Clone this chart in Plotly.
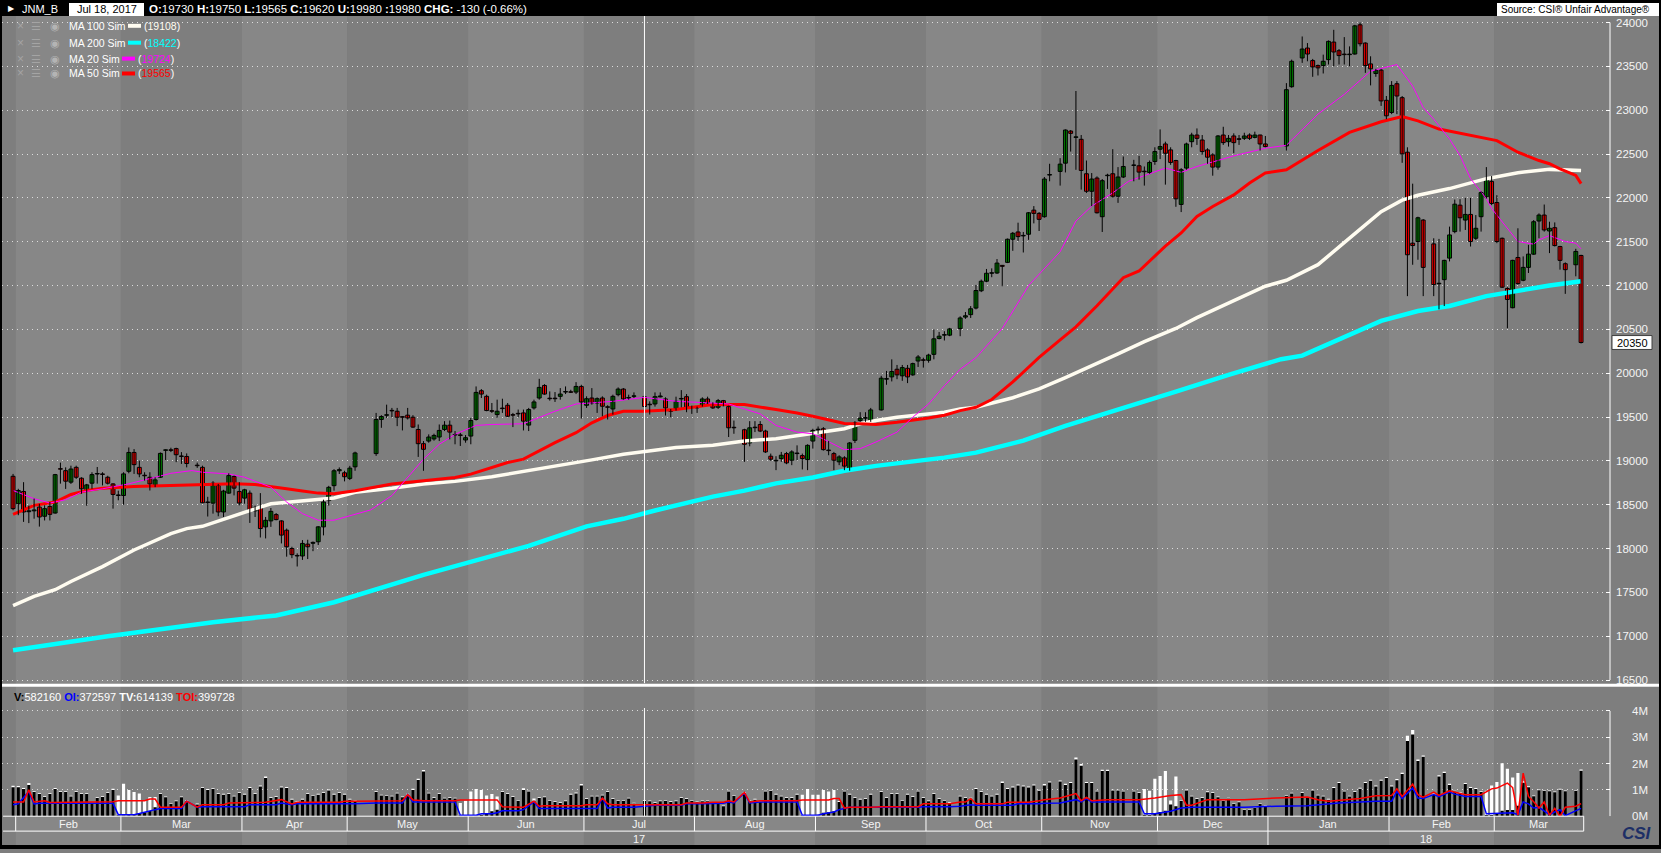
import numpy as np
import pandas as pd
import plotly.graph_objects as go

W, H = 1661, 853

# ---- calendar (weekday axis, exchange holidays left as gaps) ----
first_day = "2017-01-31"
last_day = "2018-03-23"
holidays = ["2017-03-20", "2017-05-03", "2017-05-04", "2017-05-05", "2017-07-17",
            "2017-08-11", "2017-09-18", "2017-10-09", "2017-11-03", "2017-11-23",
            "2018-01-01", "2018-01-02", "2018-01-03", "2018-01-08", "2018-02-12",
            "2018-03-21"]
month_names = ["Feb", "Mar", "Apr", "May", "Jun", "Jul", "Aug", "Sep", "Oct", "Nov",
               "Dec", "Jan", "Feb", "Mar"]
price_ticks = list(range(16500, 24001, 500))
vol_ticks = [0, 1, 2, 3, 4]
vol_tick_text = ["0M", "1M", "2M", "3M", "4M"]

# ---- daily OHLC, JNM_B ----
open_ = [
    18824, 18511, 18651, 18420, 18430, 18473, 18368, 18480, 18405, 18910,
    18888, 18757, 18926, 18802, 18662, 18745, 18850, 18850, 18813, 18737,
    18610, 18605, 18881, 19096, 18926, 18835, 18813, 18719, 18813, 19120,
    19125, 19140, 19055, 19050,
    18945, 18926, 18530, 18518, 18719, 18417, 18632, 18821, 18651, 18575,
    18632, 18430, 18466, 18247, 18315, 18387, 18315, 18209, 18000, 17915,
    17915, 18050, 18060, 18077, 18247, 18547, 18717, 18887, 18864, 18800, 18932,
    19083, 19472, 19520, 19575, 19566, 19500, 19521, 19498, 19358, 19196,
    19226, 19250, 19272, 19358, 19407, 19300, 19295, 19238, 19283, 19472,
    19800, 19736, 19570, 19528, 19600, 19634, 19525, 19540, 19547, 19408,
    19604, 19717, 19860, 19712, 19712, 19736, 19785, 19785, 19785, 19849,
    19634, 19717, 19660, 19717, 19615, 19592, 19755, 19819, 19717, 19736,
    19730, 19645, 19649, 19730, 19706, 19570, 19592, 19706, 19732, 19611,
    19610, 19630, 19706, 19649, 19611, 19687, 19619, 19380,
    19355, 19204, 19380, 19415, 19340, 19053, 19000, 19026, 19083, 19007,
    19083, 19060, 19015, 19226, 19355, 19366, 19121, 19083, 18989, 19034,
    18902, 19234, 19460, 19487, 19460,
    19581, 19932, 19958, 20045, 19970, 20056, 19981, 20139, 20150, 20147,
    20215, 20396, 20434, 20434,
    20509, 20640, 20668, 20743, 20940, 21049, 21140, 21143, 21230, 21264,
    21528, 21611, 21566, 21585, 21860, 21823, 21785, 22260,
    22302, 22396, 22762, 22690, 22668, 22275, 22075, 22226, 21785, 22253,
    22275, 22019, 22238,
    22370, 22366, 22302, 22290, 22415, 22555, 22615, 22547, 22426, 21925,
    22340, 22641, 22717, 22660, 22547, 22490, 22351, 22717, 22641, 22706,
    22670, 22679, 22717, 22690, 22717, 22615,
    22592, 23268,
    23596, 23709, 23566, 23509, 23509, 23577, 23777, 23679, 23636, 23634,
    23641, 23974, 23766, 23528, 23419, 23457, 23113, 22974, 23302, 23143,
    22521, 21483, 21502, 21747,
    21475, 21020, 21067, 21313, 21615, 21917, 21747, 21811, 21539, 21785,
    22011, 22188, 21947, 21539, 20966, 20747, 21320, 21060, 21207, 21358,
    21736, 21804, 21622, 21660, 21445, 21249,
    21237, 21343]
high = [
    18851, 18681, 18757, 18490, 18570, 18510, 18493, 18530, 18851, 18980,
    18926, 18945, 18945, 18813, 18737, 18870, 18930, 18870, 18830, 18745,
    18660, 18870, 19153, 19134, 19002, 18870, 18870, 18813, 19096, 19130,
    19150, 19150, 19100, 19085,
    18980, 18945, 18590, 18768, 18737, 18670, 18858, 18832, 18757, 18681,
    18662, 18490, 18632, 18360, 18462, 18405, 18322, 18228, 18020, 17945,
    18096, 18100, 18080, 18255, 18557, 18715, 18906, 18925, 18887, 18943, 19105,
    19547, 19521, 19641, 19604, 19604, 19510, 19604, 19521, 19415, 19226,
    19302, 19310, 19415, 19453, 19460, 19340, 19320, 19294, 19490, 19849,
    19819, 19755, 19660, 19698, 19709, 19660, 19547, 19585, 19585, 19604,
    19698, 19936, 19875, 19792, 19785, 19830, 19849, 19811, 19898, 19868,
    19736, 19830, 19724, 19736, 19634, 19755, 19838, 19830, 19755, 19781,
    19750, 19679, 19781, 19781, 19725, 19592, 19732, 19807, 19762, 19630,
    19619, 19725, 19732, 19668, 19706, 19695, 19630, 19460,
    19366, 19453, 19453, 19453, 19355, 19083, 19053, 19102, 19102, 19121,
    19177, 19083, 19189, 19366, 19392, 19385, 19226, 19102, 19064, 19053,
    19215, 19453, 19555, 19555, 19604,
    19970, 20026, 20158, 20094, 20094, 20094, 20120, 20207, 20177, 20222,
    20498, 20471, 20479, 20517,
    20649, 20698, 20766, 21007, 21068, 21189, 21196, 21302, 21234, 21536,
    21611, 21717, 21611, 21838, 21906, 21838, 22238, 22389,
    22453, 22781, 22774, 23219, 22717, 22426, 22283, 22245, 22215, 22275,
    22555, 22351, 22472,
    22434, 22479, 22358, 22426, 22577, 22781, 22641, 22577, 22434, 22340,
    22630, 22743, 22792, 22717, 22566, 22509, 22717, 22811, 22717, 22736,
    22717, 22743, 22736, 22755, 22720, 22706,
    23309, 23577,
    23841, 23766, 23585, 23521, 23634, 23796, 23917, 23698, 23834, 23728,
    23974, 24000, 23774, 23615, 23472, 23472, 23162, 23332, 23332, 23162,
    22577, 22162, 21785, 21758,
    21539, 21532, 21294, 21672, 21981, 21985, 22000, 22000, 21804, 22075,
    22351, 22249, 22030, 21547, 20981, 21294, 21653, 21332, 21464, 21747,
    21823, 21924, 21728, 21720, 21453, 21264,
    21419, 21351]
low = [
    18436, 18380, 18304, 18290, 18340, 18250, 18320, 18320, 18398, 18740,
    18680, 18737, 18794, 18624, 18488, 18681, 18740, 18720, 18730, 18455,
    18550, 18500, 18858, 18851, 18813, 18775, 18662, 18700, 18805, 19010,
    19100, 18985, 18965, 18926,
    18920, 18518, 18365, 18398, 18368, 18360, 18625, 18606, 18492, 18511,
    18292, 18360, 18126, 18115, 18247, 18322, 18058, 17907, 17890, 17795,
    17870, 17880, 17970, 18040, 18150, 18490, 18660, 18850, 18766, 18781, 18887,
    19057, 19377, 19490, 19498, 19396, 19347, 19472, 19377, 19045, 18887,
    19207, 19230, 19226, 19340, 19245, 19189, 19170, 19207, 19189, 19460,
    19717, 19566, 19547, 19490, 19547, 19498, 19385, 19498, 19347, 19340,
    19585, 19698, 19755, 19687, 19672, 19698, 19762, 19774, 19762, 19483,
    19604, 19641, 19547, 19509, 19472, 19528, 19736, 19698, 19698, 19717,
    19565, 19528, 19619, 19725, 19517, 19498, 19573, 19611, 19555, 19536,
    19547, 19619, 19649, 19592, 19592, 19622, 19272, 19309,
    18989, 19166, 19328, 19328, 19090, 19000, 18894, 18989, 18962, 18951,
    19007, 18902, 18894, 19140, 19309, 19117, 19064, 18894, 18951, 18894,
    18887, 19204, 19445, 19445, 19445,
    19574, 19868, 19906, 19932, 19913, 19887, 19970, 20071, 20064, 20120,
    20158, 20385, 20373, 20422,
    20422, 20620, 20630, 20728, 20925, 21038, 21095, 21132, 20992, 21256,
    21396, 21509, 21377, 21521, 21709, 21622, 21774, 22189,
    22140, 22290, 22528, 22320, 22094, 22056, 21906, 21822, 21611, 22102,
    22000, 21943, 22226,
    22189, 22207, 22140, 22275, 22377, 22442, 22151, 22377, 21898, 21838,
    22321, 22577, 22604, 22490, 22389, 22253, 22321, 22604, 22585, 22509,
    22604, 22660, 22660, 22679, 22540, 22577,
    22540, 23257,
    23540, 23558, 23381, 23396, 23419, 23521, 23502, 23521, 23521, 23502,
    23634, 23728, 23426, 23283, 23381, 23049, 22898, 22955, 22955, 22400,
    20879, 21237, 21294, 20879,
    20879, 20728, 20766, 21275, 21596, 21615, 21634, 21445, 21520, 21615,
    21992, 21917, 21483, 20973, 20513, 20740, 21011, 21049, 21143, 21351,
    21539, 21615, 21370, 21445, 21181, 20905,
    21105, 20339]
close = [
    18455, 18662, 18417, 18430, 18440, 18360, 18455, 18390, 18843, 18905,
    18768, 18907, 18813, 18681, 18726, 18843, 18855, 18845, 18745, 18617,
    18605, 18851, 19096, 18957, 18851, 18830, 18737, 18783, 19085, 19125,
    19120, 19070, 19050, 18970,
    18945, 18522, 18525, 18745, 18417, 18655, 18832, 18689, 18519, 18670,
    18436, 18470, 18228, 18322, 18424, 18330, 18153, 18020, 17930, 17915,
    18058, 18020, 18070, 18247, 18530, 18698, 18887, 18900, 18819, 18917, 19090,
    19472, 19506, 19525, 19570, 19498, 19498, 19490, 19385, 19196, 19132,
    19272, 19290, 19347, 19407, 19328, 19295, 19290, 19264, 19460, 19781,
    19762, 19574, 19566, 19566, 19596, 19509, 19521, 19536, 19453, 19585,
    19672, 19838, 19762, 19709, 19709, 19762, 19788, 19782, 19849, 19672,
    19709, 19660, 19709, 19623, 19611, 19736, 19819, 19706, 19720, 19738,
    19620, 19640, 19732, 19740, 19604, 19566, 19679, 19708, 19611, 19613,
    19604, 19706, 19660, 19604, 19687, 19630, 19377, 19377,
    19189, 19377, 19378, 19340, 19102, 19019, 19002, 19064, 18977, 19102,
    19085, 19026, 19177, 19347, 19357, 19128, 19117, 19007, 19045, 18940,
    19204, 19434, 19487, 19490, 19581,
    19943, 19934, 20019, 19981, 20064, 19958, 20109, 20185, 20147, 20207,
    20392, 20422, 20436, 20505,
    20630, 20655, 20735, 20943, 21049, 21140, 21143, 21256, 21219, 21528,
    21596, 21558, 21568, 21830, 21823, 21755, 22215, 22264,
    22385, 22774, 22736, 22692, 22313, 22075, 22215, 21830, 22196, 22255,
    22019, 22238, 22358,
    22372, 22294, 22298, 22404, 22528, 22585, 22509, 22404, 21989, 22321,
    22615, 22717, 22679, 22528, 22464, 22351, 22706, 22630, 22679, 22630,
    22668, 22706, 22679, 22717, 22615, 22585,
    23234, 23558,
    23698, 23641, 23494, 23483, 23558, 23785, 23664, 23623, 23634, 23636,
    23962, 23758, 23509, 23472, 23453, 23106, 22936, 23283, 23162, 22502,
    21351, 21456, 21773, 21207,
    21011, 21022, 21287, 21577, 21928, 21773, 21811, 21502, 21653, 22060,
    22211, 21936, 21502, 20981, 20841, 21287, 21022, 21207, 21358, 21728,
    21804, 21634, 21653, 21456, 21287, 21181,
    21389, 20350]

# ---- volume (millions): V = front contract, TV = total ----
vol = [
    1.10, 1.10, 1.03, 1.19, 0.92, 0.84, 0.73, 0.84, 1.03, 0.92,
    0.92, 0.75, 0.92, 0.84, 0.84, 0.47, 0.69, 0.73, 0.88, 1.00,
    0.03, 0.04, 0.05, 0.08, 0.10, 0.15, 0.20, 0.34, 0.84, 0.72,
    0.47, 0.57, 0.72, 0.57,
    0.45, 1.07, 1.00, 1.03, 0.84, 0.82, 0.84, 0.75, 0.88, 0.82,
    1.07, 0.84, 1.13, 1.45, 0.69, 0.73, 1.09, 1.07, 0.63, 0.54,
    0.63, 0.84, 0.78, 0.82, 0.88, 0.98, 0.82, 0.88, 0.82, 0.63, 0.59,
    0.92, 0.79, 0.78, 0.75, 0.86, 0.72, 0.82, 1.00, 1.38, 1.70,
    0.86, 0.69, 0.84, 0.67, 0.69, 0.67, 0.03, 0.03, 0.04, 0.05,
    0.06, 0.10, 0.19, 0.25, 0.92, 0.84, 0.73, 0.59, 1.00, 0.94,
    0.59, 0.69, 0.72, 0.59, 0.54, 0.50, 0.57, 0.82, 0.86, 1.17,
    0.65, 0.75, 0.75, 0.79, 0.92, 0.65, 0.59, 0.59, 0.67, 0.48,
    0.58, 0.57, 0.50, 0.57, 0.59, 0.54, 0.57, 0.69, 0.65, 0.59,
    0.53, 0.57, 0.57, 0.48, 0.48, 0.38, 0.94, 0.78,
    0.88, 0.57, 0.63, 0.54, 0.94, 0.97, 0.82, 0.75, 0.69, 0.69,
    0.82, 0.02, 0.03, 0.04, 0.06, 0.13, 0.15, 0.19, 0.54, 0.94,
    0.82, 0.69, 0.63, 0.65, 0.82,
    0.92, 0.69, 0.84, 0.84, 0.59, 0.82, 0.73, 0.94, 0.69, 0.57,
    0.84, 0.65, 0.59, 0.50,
    0.75, 0.69, 0.67, 1.03, 0.92, 0.82, 0.75, 0.82, 1.26, 1.03,
    1.09, 1.17, 1.13, 1.09, 1.17, 0.97, 1.17, 1.28,
    1.32, 1.19, 1.26, 2.16, 1.92, 1.26, 1.26, 0.94, 1.72, 1.72,
    0.98, 0.98, 0.94,
    0.94, 0.88, 0.06, 0.05, 0.08, 0.16, 0.21, 0.45, 0.38, 0.59,
    0.98, 0.75, 0.65, 0.69, 0.91, 0.88, 0.72, 0.59, 0.67, 0.47,
    0.53, 0.25, 0.25, 0.31, 0.47, 0.38,
    0.78, 0.86,
    0.88, 0.69, 0.98, 0.79, 0.75, 0.63, 1.07, 1.26, 0.94, 0.75,
    0.92, 1.04, 1.26, 1.35, 1.13, 1.35, 1.45, 1.13, 1.37, 1.60,
    2.86, 3.11, 2.10, 2.26,
    0.82, 1.51, 1.64, 1.19, 0.94, 0.88, 1.22, 1.07, 1.03, 0.92,
    0.05, 0.05, 0.08, 0.21, 0.24, 0.24, 0.40, 1.27, 1.10, 0.76,
    0.99, 0.97, 0.95, 0.91, 1.01, 0.95,
    0.97, 1.73]
total_vol = [
    1.16, 1.15, 1.07, 1.26, 0.95, 0.87, 0.76, 0.87, 1.07, 0.95,
    0.95, 0.78, 0.95, 0.87, 0.87, 0.50, 0.72, 0.76, 0.91, 1.04,
    0.79, 1.23, 1.00, 0.92, 0.86, 0.60, 0.73, 0.73, 0.87, 0.75,
    0.50, 0.60, 0.75, 0.60,
    0.48, 1.10, 1.03, 1.06, 0.87, 0.85, 0.87, 0.78, 0.91, 0.85,
    1.11, 0.87, 1.17, 1.51, 0.72, 0.76, 1.13, 1.11, 0.66, 0.57,
    0.66, 0.87, 0.81, 0.85, 0.91, 1.02, 0.85, 0.91, 0.85, 0.66, 0.62,
    0.95, 0.82, 0.81, 0.78, 0.89, 0.75, 0.85, 1.04, 1.42, 1.76,
    0.89, 0.72, 0.87, 0.70, 0.72, 0.70, 0.50, 0.59, 0.94, 1.03,
    1.00, 0.79, 0.84, 0.75, 0.95, 0.87, 0.76, 0.62, 1.06, 0.97,
    0.67, 0.72, 0.75, 0.62, 0.57, 0.53, 0.60, 0.85, 0.90, 1.22,
    0.68, 0.78, 0.78, 0.82, 0.95, 0.68, 0.62, 0.62, 0.70, 0.51,
    0.61, 0.60, 0.53, 0.60, 0.62, 0.57, 0.60, 0.72, 0.68, 0.62,
    0.56, 0.60, 0.60, 0.51, 0.51, 0.41, 0.97, 0.81,
    0.91, 0.60, 0.66, 0.57, 0.97, 1.00, 0.85, 0.78, 0.72, 0.72,
    0.85, 0.82, 1.03, 0.82, 0.82, 1.00, 0.94, 1.00, 0.58, 0.97,
    0.85, 0.72, 0.66, 0.68, 0.85,
    0.95, 0.72, 0.87, 0.87, 0.62, 0.85, 0.76, 0.97, 0.72, 0.60,
    0.87, 0.68, 0.62, 0.53,
    0.78, 0.72, 0.70, 1.07, 0.95, 0.85, 0.78, 0.85, 1.32, 1.07,
    1.13, 1.21, 1.17, 1.13, 1.21, 1.01, 1.22, 1.32,
    1.36, 1.23, 1.30, 2.23, 1.98, 1.30, 1.30, 0.97, 1.77, 1.77,
    1.01, 1.01, 0.97,
    0.97, 0.91, 1.03, 0.97, 1.42, 1.53, 1.72, 0.60, 1.51, 0.62,
    1.02, 0.78, 0.68, 0.72, 0.95, 0.91, 0.75, 0.62, 0.70, 0.50,
    0.56, 0.27, 0.27, 0.33, 0.50, 0.41,
    0.81, 0.89,
    0.91, 0.72, 1.01, 0.82, 0.78, 0.66, 1.11, 1.30, 0.97, 0.78,
    0.95, 1.08, 1.30, 1.39, 1.17, 1.39, 1.49, 1.17, 1.41, 1.65,
    3.06, 3.28, 2.16, 2.31,
    0.86, 1.56, 1.69, 1.23, 0.97, 0.91, 1.26, 1.11, 1.07, 0.95,
    0.97, 1.17, 1.30, 2.01, 1.80, 1.47, 1.64, 1.33, 1.14, 0.79,
    1.02, 1.00, 0.98, 0.94, 1.04, 0.98,
    1.00, 1.78]

# ---- open interest lines (millions), read at weekday numbers ----
oi_days = [0, 1, 3, 4, 5, 19, 20, 23, 24, 25, 26, 27, 28, 32, 33, 35, 36, 44, 45, 50,
           51, 53, 54, 65, 69, 74, 75, 76, 84, 85, 88, 89, 91, 92, 93, 96, 97, 99, 100, 111,
           112, 113, 114, 118, 120, 122, 127, 128, 131, 133, 135, 136, 137, 139, 140, 142,
           149, 150, 153, 154, 155, 156, 157, 158, 159, 172, 173, 178, 180, 182, 183, 190,
           191, 195, 196, 199, 202, 203, 204, 205, 214, 215, 217, 220, 222, 224, 234, 240,
           246, 252, 259, 262, 263, 264, 266, 267, 268, 270, 271, 273, 274, 276, 279, 280,
           284, 285, 286, 287, 288, 289, 290, 291, 292, 293, 294, 295, 297, 298]
oi_vals = [0.44, 0.47, 0.94, 0.47, 0.49, 0.49, 0.06, 0.06, 0.10, 0.16, 0.21, 0.25, 0.29,
           0.29, 0.57, 0.34, 0.36, 0.36, 0.44, 0.44, 0.50, 0.44, 0.47, 0.47, 0.50, 0.50,
           0.82, 0.54, 0.54, 0.04, 0.04, 0.09, 0.09, 0.13, 0.21, 0.21, 0.25, 0.54, 0.29,
           0.29, 0.69, 0.31, 0.34, 0.34, 0.377, 0.42, 0.42, 0.47, 0.47, 0.49, 0.49, 0.54,
           0.50, 0.88, 0.50, 0.54, 0.54, 0.04, 0.04, 0.09, 0.13, 0.16, 0.25, 0.29, 0.34,
           0.34, 0.36, 0.36, 0.38, 0.44, 0.42, 0.42, 0.47, 0.47, 0.49, 0.50, 0.63, 0.54,
           0.67, 0.54, 0.54, 0.09, 0.09, 0.19, 0.31, 0.34, 0.34, 0.38, 0.40, 0.50, 0.57,
           0.57, 0.94, 0.67, 1.07, 0.69, 0.67, 0.82, 0.74, 0.92, 0.84, 0.75, 0.75, 0.09,
           0.11, 0.13, 0.06, 0.54, 0.47, 0.31, 0.34, 0.19, 0.06, 0.16, 0.25, 0.02, 0.20,
           0.30]
toi_days = [0, 2, 3, 4, 6, 7, 19, 20, 25, 26, 27, 28, 32, 33, 35, 36, 40, 41, 48, 51,
            53, 54, 62, 63, 65, 69, 74, 75, 76, 78, 84, 85, 92, 93, 97, 99, 100, 101, 108,
            109, 111, 112, 113, 114, 118, 120, 122, 127, 128, 131, 133, 135, 136, 137, 139,
            140, 142, 149, 150, 155, 156, 157, 158, 159, 163, 165, 172, 173, 178, 180, 181,
            182, 183, 188, 189, 193, 195, 196, 199, 202, 203, 204, 205, 208, 214, 217, 220,
            222, 223, 224, 227, 234, 240, 246, 248, 250, 256, 259, 262, 263, 264, 266, 267,
            268, 270, 271, 273, 274, 276, 279, 281, 282, 284, 285, 286, 287, 288, 289, 290,
            291, 292, 293, 294, 295, 297, 298]
toi_vals = [0.54, 0.54, 1.00, 0.54, 0.59, 0.52, 0.55, 0.59, 0.59, 0.65, 0.65, 0.34, 0.34,
            0.57, 0.34, 0.44, 0.44, 0.50, 0.53, 0.63, 0.47, 0.53, 0.53, 0.57, 0.57, 0.59,
            0.59, 0.82, 0.62, 0.59, 0.59, 0.62, 0.62, 0.36, 0.34, 0.57, 0.38, 0.40, 0.40,
            0.44, 0.44, 0.69, 0.47, 0.44, 0.44, 0.415, 0.44, 0.44, 0.50, 0.50, 0.53, 0.53,
            0.59, 0.54, 0.90, 0.54, 0.59, 0.59, 0.62, 0.62, 0.67, 0.67, 0.31, 0.34, 0.34,
            0.36, 0.36, 0.47, 0.47, 0.54, 0.54, 0.67, 0.47, 0.47, 0.53, 0.53, 0.59, 0.63,
            0.69, 0.86, 0.59, 0.72, 0.59, 0.63, 0.63, 0.69, 0.79, 0.82, 0.42, 0.42, 0.63,
            0.63, 0.69, 0.73, 0.63, 0.57, 0.67, 0.78, 0.79, 1.04, 0.75, 1.22, 0.82, 0.72,
            0.92, 0.79, 0.97, 0.92, 0.82, 0.82, 1.04, 1.07, 1.26, 1.09, 0.04, 1.64, 0.75,
            0.55, 0.31, 0.54, 0.04, 0.30, 0.00, 0.34, 0.38, 0.48]

# ---- moving averages, read at weekday numbers ----
ma200_days = [0, 18, 38, 50, 55, 61, 78, 98, 109, 116, 122, 128, 133, 139, 145, 152, 158,
              164, 171, 177, 183, 192, 200, 210, 221, 231, 241, 245, 254, 260, 267, 273,
              280, 286, 292, 298]
ma200_vals = [16840, 17000, 17160, 17236, 17304, 17387, 17700, 18030, 18253, 18339, 18434,
              18524, 18592, 18660, 18743, 18811, 18887, 18943, 18992, 19037, 19094, 19230,
              19400, 19580, 19790, 19980, 20160, 20200, 20445, 20596, 20709, 20766, 20879,
              20943, 21000, 21049]
ma100_days = [0, 4, 8, 11, 17, 23, 30, 33, 36, 42, 46, 49, 55, 61, 65, 72, 78, 84, 91, 97,
              103, 110, 116, 120, 126, 133, 139, 145, 152, 158, 161, 164, 168, 171, 174,
              177, 180, 183, 190, 195, 200, 205, 210, 215, 221, 225, 231, 238, 242, 248,
              254, 260, 264, 267, 273, 280, 286, 292, 298]
ma100_vals = [17349, 17455, 17530, 17624, 17794, 17983, 18170, 18227, 18253, 18379, 18453,
              18510, 18547, 18577, 18642, 18687, 18736, 18766, 18819, 18879, 18932, 19011,
              19075, 19108, 19151, 19177, 19226, 19253, 19309, 19366, 19423, 19460, 19498,
              19517, 19536, 19555, 19592, 19611, 19720, 19820, 19950, 20080, 20220, 20360,
              20510, 20634, 20804, 20992, 21060, 21238, 21540, 21842, 21974, 22030, 22106,
              22219, 22287, 22325, 22313]
ma50_days = [0, 4, 8, 11, 14, 17, 23, 30, 36, 42, 46, 49, 52, 55, 58, 61, 65, 72, 78, 84,
             87, 91, 94, 97, 100, 103, 107, 110, 113, 116, 120, 126, 133, 139, 145, 149,
             152, 155, 158, 161, 164, 168, 171, 174, 177, 180, 183, 186, 190, 195, 199,
             202, 206, 211, 214, 219, 222, 225, 228, 232, 235, 238, 242, 248, 254, 260,
             264, 267, 271, 276, 282, 286, 290, 292, 294, 297, 298]
ma50_vals = [18390, 18492, 18530, 18617, 18662, 18689, 18708, 18719, 18730, 18738, 18730,
             18708, 18681, 18655, 18632, 18625, 18660, 18736, 18774, 18811, 18849, 18925,
             18981, 19019, 19113, 19208, 19321, 19434, 19517, 19566, 19565, 19585, 19642,
             19642, 19585, 19547, 19509, 19464, 19426, 19423, 19415, 19441, 19464, 19490,
             19521, 19573, 19611, 19700, 19900, 20180, 20380, 20528, 20770, 21090, 21166,
             21449, 21600, 21789, 21902, 22034, 22170, 22283, 22321, 22540, 22747, 22868,
             22928, 22879, 22785, 22728, 22653, 22521, 22426, 22389, 22332, 22257, 22162]
ma20_days = [0, 4, 7, 10, 13, 17, 22, 27, 30, 34, 36, 41, 44, 49, 52, 55, 58, 61, 64, 68,
             72, 75, 78, 81, 84, 88, 91, 97, 100, 103, 107, 110, 114, 120, 126, 130, 136,
             139, 142, 145, 149, 152, 155, 158, 161, 164, 168, 171, 174, 177, 180, 183,
             188, 193, 199, 202, 205, 209, 212, 219, 222, 225, 232, 238, 242, 248, 253,
             258, 263, 266, 268, 270, 273, 275, 277, 280, 281, 283, 286, 289, 290, 292,
             295, 297, 298]
ma20_vals = [18662, 18568, 18519, 18557, 18643, 18681, 18738, 18813, 18858, 18889, 18870,
             18851, 18813, 18700, 18530, 18398, 18323, 18323, 18377, 18441, 18604, 18811,
             19019, 19189, 19302, 19404, 19415, 19423, 19498, 19566, 19649, 19660, 19679,
             19724, 19679, 19668, 19649, 19592, 19536, 19404, 19328, 19309, 19215, 19128,
             19139, 19215, 19328, 19498, 19649, 19857, 20045, 20177, 20509, 21000, 21385,
             21736, 21906, 22057, 22189, 22340, 22291, 22358, 22479, 22566, 22600, 22955,
             23181, 23445, 23521, 23275, 23030, 22898, 22672, 22483, 22219, 21992, 21879,
             21728, 21502, 21472, 21521, 21570, 21502, 21483, 21419]

cursor_date = "2017-07-18"
ma_legend = [("MA 100 Sim", "#fffcf0", "19108"), ("MA 200 Sim", "#00ffff", "18422"),
             ("MA 20 Sim", "#ff00ff", "19724"), ("MA 50 Sim", "#ff0000", "19565")]

# ---- derived positions on the weekday axis ----
wd_all = pd.bdate_range(first_day, last_day)
trade_days = wd_all[~wd_all.isin(pd.to_datetime(holidays))]
assert len(trade_days) == len(close) == len(vol) == len(total_vol)
d0 = np.datetime64(first_day)
day_no = np.busday_count(d0, trade_days.values.astype("datetime64[D]"))
cursor_x = int(np.busday_count(d0, np.datetime64(cursor_date)))
month_starts = pd.date_range("2017-02-01", "2018-03-01", freq="MS")
bounds = [np.busday_count(d0, np.busday_offset(np.datetime64(m.date()), 0, roll="forward")) - 0.5
          for m in month_starts]
end_x = day_no[-1] + 0.5
X0, X1 = -2.1, 303.5


def fx(p):
    return p / W


def fy(p):
    return 1 - p / H


DARK, LIGHT = "#7e7e7e", "#878787"

o_arr, c_arr = np.array(open_), np.array(close)
body_base = np.minimum(o_arr, c_arr)
body_size = np.maximum(np.abs(c_arr - o_arr), 6)
body_col = np.where(c_arr > o_arr, "#008000", "#ff0000")
wick_x, wick_y = [], []
for d, lo, hi in zip(day_no, low, high):
    wick_x += [d, d, None]
    wick_y += [lo, hi, None]

fig = go.Figure()
fig.add_trace(go.Scatter(x=ma200_days, y=ma200_vals, mode="lines",
                         line=dict(color="#00ffff", width=4.5), hoverinfo="skip"))
fig.add_trace(go.Scatter(x=ma100_days, y=ma100_vals, mode="lines",
                         line=dict(color="#fffcf0", width=3.5), hoverinfo="skip"))
fig.add_trace(go.Scatter(x=ma50_days, y=ma50_vals, mode="lines",
                         line=dict(color="#ff0000", width=3), hoverinfo="skip"))
fig.add_trace(go.Scatter(x=ma20_days, y=ma20_vals, mode="lines",
                         line=dict(color="#ff00ff", width=1), hoverinfo="skip"))
fig.add_trace(go.Scatter(x=wick_x, y=wick_y, mode="lines",
                         line=dict(color="black", width=1), hoverinfo="skip"))
fig.add_trace(go.Bar(x=day_no, y=body_size, base=body_base, width=0.74,
                     marker=dict(color=body_col, line=dict(color="black", width=1)),
                     hoverinfo="skip"))
fig.add_trace(go.Bar(x=day_no, y=total_vol, yaxis="y2", width=0.6,
                     marker=dict(color="white", line=dict(width=0)), hoverinfo="skip"))
fig.add_trace(go.Bar(x=day_no, y=vol, yaxis="y2", width=0.6,
                     marker=dict(color="black", line=dict(width=0)), hoverinfo="skip"))
fig.add_trace(go.Scatter(x=oi_days, y=oi_vals, yaxis="y2", mode="lines",
                         line=dict(color="#0000ff", width=1.5), hoverinfo="skip"))
fig.add_trace(go.Scatter(x=toi_days, y=toi_vals, yaxis="y2", mode="lines",
                         line=dict(color="#ff0000", width=1.5), hoverinfo="skip"))

shapes = []
# month bands
edges = [X0] + bounds + [X1]
for i in range(len(edges) - 1):
    shapes.append(dict(type="rect", xref="x", yref="paper", x0=edges[i], x1=edges[i + 1],
                       y0=0, y1=fy(16), fillcolor=DARK if i % 2 == 0 else LIGHT,
                       line=dict(width=0), layer="below"))
# cursor
shapes.append(dict(type="line", xref="x", yref="paper", x0=cursor_x, x1=cursor_x,
                   y0=fy(688), y1=fy(16), line=dict(color="white", width=1)))
shapes.append(dict(type="line", xref="x", yref="paper", x0=cursor_x, x1=cursor_x,
                   y0=fy(822), y1=fy(713), line=dict(color="white", width=1)))
# axis lines
shapes.append(dict(type="line", xref="paper", yref="y", x0=fx(1610), x1=fx(1610),
                   y0=16500, y1=24000, line=dict(color="white", width=1)))
shapes.append(dict(type="line", xref="paper", yref="y2", x0=fx(1610), x1=fx(1610),
                   y0=0, y1=4, line=dict(color="white", width=1)))
# panel separator
shapes.append(dict(type="line", xref="paper", yref="paper", x0=fx(2), x1=1,
                   y0=fy(690), y1=fy(690), line=dict(color="white", width=3)))
# baseline and date rows
for yy in (822, 837):
    shapes.append(dict(type="line", xref="x", yref="paper", x0=X0 + 0.2, x1=end_x,
                       y0=fy(yy), y1=fy(yy), line=dict(color="white", width=1)))
for b in bounds + [end_x]:
    shapes.append(dict(type="line", xref="x", yref="paper", x0=b, x1=b,
                       y0=fy(837), y1=fy(822), line=dict(color="white", width=1)))
jan18 = bounds[11]
shapes.append(dict(type="line", xref="x", yref="paper", x0=jan18, x1=jan18,
                   y0=0, y1=fy(837), line=dict(color="white", width=1)))
# header bar, boxes
shapes.append(dict(type="rect", xref="paper", yref="paper", x0=0, x1=1, y0=fy(16), y1=1,
                   fillcolor="black", line=dict(width=0)))
shapes.append(dict(type="rect", xref="paper", yref="paper", x0=fx(69), x1=fx(144),
                   y0=fy(16), y1=fy(3), fillcolor="white", line=dict(width=0)))
shapes.append(dict(type="rect", xref="paper", yref="paper", x0=fx(1497), x1=fx(1660),
                   y0=fy(16), y1=fy(3), fillcolor="white", line=dict(width=0)))
# last price box
ylast = 22.7 + (24000 - close[-1]) / 11.327
shapes.append(dict(type="rect", xref="paper", yref="paper", x0=fx(1612), x1=fx(1652),
                   y0=fy(ylast + 7), y1=fy(ylast - 7), fillcolor="white",
                   line=dict(color="#404040", width=1)))
# legend swatches
rows_y = [26, 43, 59, 74]
for k, (name, col, val) in enumerate(ma_legend):
    sx = 128 if k < 2 else 122
    shapes.append(dict(type="rect", xref="paper", yref="paper", x0=fx(sx), x1=fx(sx + 13),
                       y0=fy(rows_y[k] + 2), y1=fy(rows_y[k] - 2), fillcolor=col,
                       line=dict(width=0)))
# outer frame
shapes.append(dict(type="rect", xref="paper", yref="paper", x0=0, x1=1, y0=0, y1=1,
                   line=dict(color="black", width=4)))

ann = []


def text(x, y, s, size=11, color="#f2f2f2", anchor="left", xref="paper"):
    ann.append(dict(x=x if xref != "paper" else fx(x), y=fy(y), xref=xref, yref="paper",
                    text=s, showarrow=False, xanchor=anchor, yanchor="middle",
                    font=dict(size=size, color=color)))


text(6, 9, "▶", size=8, color="white")
text(20, 9, "JNM_B", size=11, color="white")
text(106.5, 9.5, "Jul 18, 2017", size=11, color="black", anchor="center")
text(147, 9, "<b>O:</b>19730 <b>H:</b>19750 <b>L:</b>19565 <b>C:</b>19620 "
             "<b>U:</b>19980 <b>:</b>19980 <b>CHG:</b> -130 (-0.66%)", size=11.5, color="white")
text(1499, 9.5, "Source: CSI® Unfair Advantage®", size=10, color="black")
for k, (name, col, val) in enumerate(ma_legend):
    sx = 128 if k < 2 else 122
    text(15, rows_y[k], "×", size=12, color="#a4a4a4")
    text(29, rows_y[k], "☰", size=11, color="#a4a4a4")
    text(48, rows_y[k], "◉", size=11, color="#b4b4b4")
    text(67, rows_y[k], name, size=10.5, color="white")
    text(sx + 14, rows_y[k], "(<span style='color:%s'>%s</span>)" % (col, val),
         size=10.5, color="white")
text(12, 702, "<span style='color:black'><b>V:</b></span>582160 "
              "<span style='color:#0000ff'><b>OI:</b></span>372597 "
              "<b>TV:</b>614139 "
              "<span style='color:#ff0000'><b>TOI:</b></span>399728", size=11, color="white")
text(1632, ylast, f"{close[-1]}", size=11, color="black", anchor="center")
# month and year labels
m_edges = bounds + [end_x]
for i, m in enumerate(month_names):
    text((m_edges[i] + m_edges[i + 1]) / 2, 829.5, m, size=11, color="#f4f4f4",
         anchor="center", xref="x")
text((-0.5 + jan18) / 2, 845, "17", size=11, color="#f4f4f4", anchor="center", xref="x")
text((jan18 + end_x) / 2, 845, "18", size=11, color="#f4f4f4", anchor="center", xref="x")
text(1637, 839, "<b><i>CSI</i></b>", size=17, color="#1d2f66", anchor="center")

grid = dict(showgrid=True, gridcolor="rgba(235,235,235,0.85)", griddash="1px,4px",
            gridwidth=1, zeroline=False, showline=False, ticks="inside", ticklen=4,
            tickcolor="white", side="right", anchor="free", position=fx(1610),
            tickfont=dict(size=11.5, color="#f4f4f4"), fixedrange=True)

fig.update_layout(
    width=W, height=H, margin=dict(l=0, r=0, t=0, b=0),
    paper_bgcolor=DARK, plot_bgcolor="rgba(0,0,0,0)",
    showlegend=False, barmode="overlay", hovermode=False,
    font=dict(family="Liberation Sans, Arial, sans-serif", size=11, color="#f2f2f2"),
    xaxis=dict(domain=[fx(2), fx(1610)], range=[X0, X1], showgrid=False, zeroline=False,
               showticklabels=False, ticks="", showline=False, fixedrange=True),
    yaxis=dict(domain=[fy(690), fy(16)], range=[16441.5, 24075.9], tickvals=price_ticks,
               tickformat="d", ticklabelstandoff=5, **grid),
    yaxis2=dict(domain=[fy(822), fy(692)], range=[0, 4.906], tickvals=vol_ticks,
                ticktext=vol_tick_text, ticklabelstandoff=21, **grid),
    shapes=shapes, annotations=ann,
)

fig.write_html("out.html", config={"displayModeBar": False},
               post_script="document.body.style.margin='0';document.body.style.overflow='hidden';")
